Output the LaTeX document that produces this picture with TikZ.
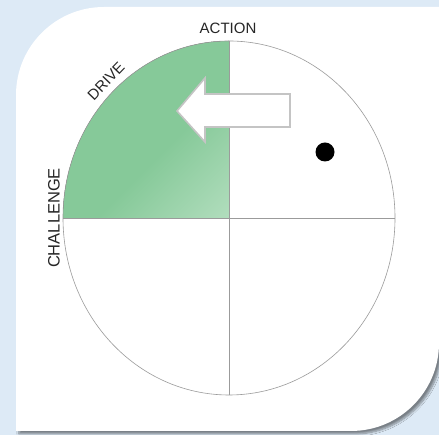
\documentclass[tikz,border=0pt]{standalone}
\usepackage{fontspec}
\setmainfont{Liberation Sans}
\usepackage{tikz}
\usetikzlibrary{shadows.blur}

\definecolor{fondo}{RGB}{221,234,246}
\definecolor{gverde}{RGB}{134,201,153}
\definecolor{gclaro}{RGB}{200,232,208}
\definecolor{linea}{RGB}{155,155,155}
\definecolor{flecha}{RGB}{196,196,196}
\pgfdeclarehorizontalshading{cuadverde}{100bp}{color(0bp)=(gverde); color(58bp)=(gverde); color(100bp)=(gclaro)}

\begin{document}
\begin{tikzpicture}[x=1pt, y=1pt,
    lbl/.style={text=black!85, font=\fontsize{15}{18}\selectfont, inner sep=0pt}]
        \useasboundingbox (0,0) rectangle (439,435);
        \fill[fondo] (0,0) rectangle (439,435);
        % tarjeta blanca con dos esquinas redondeadas
        \fill[white, blur shadow={shadow xshift=3pt, shadow yshift=-3pt, shadow blur steps=8, shadow opacity=45}]
            (16,4) -- (16,340) arc[start angle=180, end angle=90, radius=88]
            -- (439,428) -- (439,92) arc[start angle=0, end angle=-90, radius=88] -- cycle;
        \coordinate (c) at (229,217);
        % cuadrante superior izquierdo
        \fill[shading=cuadverde, shading angle=-45]
            (c) -- ++(-166,0) arc[start angle=180, end angle=90, x radius=166, y radius=177] -- cycle;
        \draw[linea, line width=0.6pt] (c) ellipse[x radius=166, y radius=177];
        \draw[linea, line width=0.6pt] (c) ++(-166,0) -- ++(332,0);
        \draw[linea, line width=0.6pt] (c) ++(0,-177) -- ++(0,354);
        % flecha hacia la izquierda
        \draw[flecha, fill=white, line width=1.6pt, line join=miter]
            (177,324) -- (205,357) -- (205,341) -- (290,341) -- (290,308) -- (205,308) -- (205,293) -- cycle;
        \node[circle, fill=black, minimum size=19pt, inner sep=0pt] (punto) at (325,283) {};
        % etiquetas
        \node[lbl] (action) at (228,407) {ACTION};
        \node[lbl, rotate=46] (drive) at (106,354) {DRIVE};
        \node[lbl, rotate=90, font=\fontsize{16.5}{19}\selectfont] (challenge) at (54,217) {CHALLENGE};
    \end{tikzpicture}
\end{document}
